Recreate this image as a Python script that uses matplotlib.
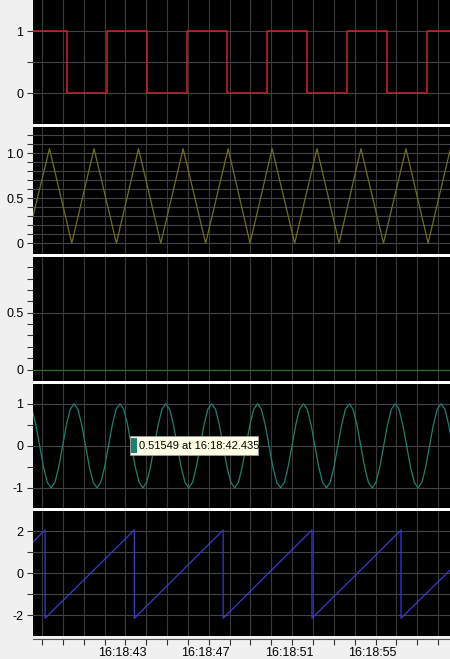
import matplotlib
matplotlib.use("Agg")
import matplotlib.pyplot as plt
from matplotlib.patches import Rectangle
from matplotlib.ticker import FixedLocator, FuncFormatter
from matplotlib.transforms import ScaledTranslation
import numpy as np

# time in seconds after 16:18:00
T0, T1 = 38.57, 58.57
TIME_TICKS = list(range(39, 59))
TIME_LABELS = [43, 47, 51, 55]

# square wave (step edges, level after each edge)
sq_t = [38.57, 40.20, 42.12, 44.04, 45.96, 47.88, 49.80, 51.72, 53.64, 55.56, 57.47, 58.57]
sq_v = [1, 0, 1, 0, 1, 0, 1, 0, 1, 0, 1, 1]

# triangle wave vertices
tri_t = [38.57, 39.36, 40.43, 41.50, 42.57, 43.63, 44.70, 45.77, 46.85, 47.93,
         48.98, 50.04, 51.12, 52.19, 53.25, 54.30, 55.38, 56.46, 57.52, 58.57]
tri_v = [0.30, 1.05, 0.0, 1.05, 0.0, 1.05, 0.0, 1.05, 0.0, 1.05,
         0.0, 1.05, 0.0, 1.05, 0.0, 1.05, 0.0, 1.05, 0.0, 1.03]

# flat channel
flat_t = [38.57, 58.57]
flat_v = [0.0, 0.0]

# sine channel, sampled every 0.1833 s from t=38.34
sin_start, sin_dt = 38.34, 0.18333
sin_v = [1.0, 0.87, 0.5, 0.0, -0.5, -0.87, -1.0, -0.87, -0.5, 0.0, 0.5, 0.87,
         1.0, 0.87, 0.5, 0.0, -0.5, -0.87, -1.0, -0.87, -0.5, 0.0, 0.5, 0.87,
         1.0, 0.87, 0.5, 0.0, -0.5, -0.87, -1.0, -0.87, -0.5, 0.0, 0.5, 0.87,
         1.0, 0.87, 0.5, 0.0, -0.5, -0.87, -1.0, -0.87, -0.5, 0.0, 0.5, 0.87,
         1.0, 0.87, 0.5, 0.0, -0.5, -0.87, -1.0, -0.87, -0.5, 0.0, 0.5, 0.87,
         1.0, 0.87, 0.5, 0.0, -0.5, -0.87, -1.0, -0.87, -0.5, 0.0, 0.5, 0.87,
         1.0, 0.87, 0.5, 0.0, -0.5, -0.87, -1.0, -0.87, -0.5, 0.0, 0.5, 0.87,
         1.0, 0.87, 0.5, 0.0, -0.5, -0.87, -1.0, -0.87, -0.5, 0.0, 0.5, 0.87,
         1.0, 0.87, 0.5, 0.0, -0.5, -0.87, -1.0, -0.87, -0.5, 0.0, 0.5, 0.87,
         1.0, 0.87, 0.5, 0.0, -0.5, -0.87, -1.0, -0.87, -0.5, 0.0, 0.5, 0.87,
         1.0]
sin_t = sin_start + sin_dt * np.arange(len(sin_v))

# sawtooth vertices
saw_t = [38.57, 39.15, 39.15, 43.43, 43.43, 47.69, 47.69, 51.95, 51.95, 56.22, 56.22, 58.57]
saw_v = [1.5, 2.07, -2.15, 2.07, -2.15, 2.07, -2.15, 2.07, -2.15, 2.07, -2.15, 0.15]

tooltip_txt = "0.51549 at 16:18:42.435"

BG = "#F0F0F0"; VGRID = "#3A3A3A"; HGRID = "#444444"
plt.rcParams.update({"font.family": ["Liberation Sans", "DejaVu Sans"], "font.size": 9})

W, H = 450, 659
fig = plt.figure(figsize=(4.5, 6.59), dpi=100)
fig.patch.set_facecolor(BG)
L = 33
fig.patches.append(Rectangle((L / W, 1 - 636 / H), 1 - L / W, 636 / H, transform=fig.transFigure,
                             fc="white", ec="none", zorder=-10))

panels = [(0, 124), (127, 254), (257, 381), (384, 508), (511, 636)]
axes = []
for top, bot in panels:
    ax = fig.add_axes([L / W, 1 - bot / H, 1 - L / W, (bot - top) / H])
    ax.set_facecolor("black")
    ax.set_xlim(T0, T1)
    for s in ax.spines.values():
        s.set_visible(False)
    ax.xaxis.set_major_locator(FixedLocator(TIME_TICKS))
    ax.tick_params(axis="x", bottom=False, labelbottom=False)
    ax.tick_params(axis="y", length=4, width=0.8, color="#333333", pad=3, labelsize=9)
    ax.grid(axis="x", color=VGRID, lw=0.8)
    axes.append(ax)

def yaxis(ax, lim, ticks, labels, grid_ticks):
    ax.set_ylim(*lim)
    ax.yaxis.set_major_locator(FixedLocator(ticks))
    ax.set_yticklabels([labels.get(round(t, 2), "") for t in ticks])
    for g in grid_ticks:
        ax.axhline(g, color=HGRID, lw=0.8, zorder=0.5)

a1, a2, a3, a4, a5 = axes

yaxis(a1, (-0.5, 1.5), [0, 0.5, 1], {0: "0", 1: "1"}, [0, 0.5, 1])
a1.step(sq_t, sq_v, where="post", color="#C8222C", lw=1.1)

t2 = [round(0.1 * i, 1) for i in range(0, 13)]
yaxis(a2, (-0.12, 1.29), t2, {0: "0", 0.5: "0.5", 1.0: "1.0"}, t2)
a2.plot(tri_t, tri_v, color="#6E6E1E", lw=0.9)

t3 = [round(0.1 * i, 1) for i in range(0, 10)]
yaxis(a3, (-0.1, 0.99), t3, {0: "0", 0.5: "0.5"}, [0.5])
a3.plot(flat_t, flat_v, color="#2C6A2C", lw=1.0)

yaxis(a4, (-1.48, 1.47), [-1, -0.5, 0, 0.5, 1], {-1: "-1", 0: "0", 1: "1"}, [-1, 0, 1])
a4.plot(sin_t, sin_v, color="#1F8070", lw=0.9)

yaxis(a5, (-3.0, 2.98), [-2, -1, 0, 1, 2], {-2: "-2", 0: "0", 2: "2"}, [-2, -1, 0, 1, 2])
a5.plot(saw_t, saw_v, color="#3B3BCC", lw=0.9)

# time axis on the bottom panel
a5.spines["bottom"].set_visible(True)
a5.spines["bottom"].set_position(("outward", 2))
a5.spines["bottom"].set_color("#555555")
a5.tick_params(axis="x", bottom=True, labelbottom=True, length=4, width=0.8,
               color="#333333", pad=2, labelsize=9)
a5.xaxis.set_major_formatter(FuncFormatter(
    lambda t, p: f"16:18:{int(round(t)):02d}" if int(round(t)) in TIME_LABELS else ""))
shift = ScaledTranslation(-3 / 100, 0, fig.dpi_scale_trans)
for lab in a5.get_xticklabels():
    lab.set_transform(lab.get_transform() + shift)

# hover tooltip on the sine panel
a4.add_patch(Rectangle((0.2326, 0.4274), 0.307, 0.1532, transform=a4.transAxes,
                       fc="#FFFFE6", ec="#9A9A9A", lw=0.6, zorder=5))
a4.add_patch(Rectangle((0.2350, 0.4435), 0.0144, 0.121, transform=a4.transAxes,
                       fc="#1F8070", ec="none", zorder=6))
a4.text(0.2542, 0.504, tooltip_txt, transform=a4.transAxes, fontsize=8, color="black",
        va="center", ha="left", zorder=7)

fig.savefig("out.png", dpi=100, facecolor=BG)
